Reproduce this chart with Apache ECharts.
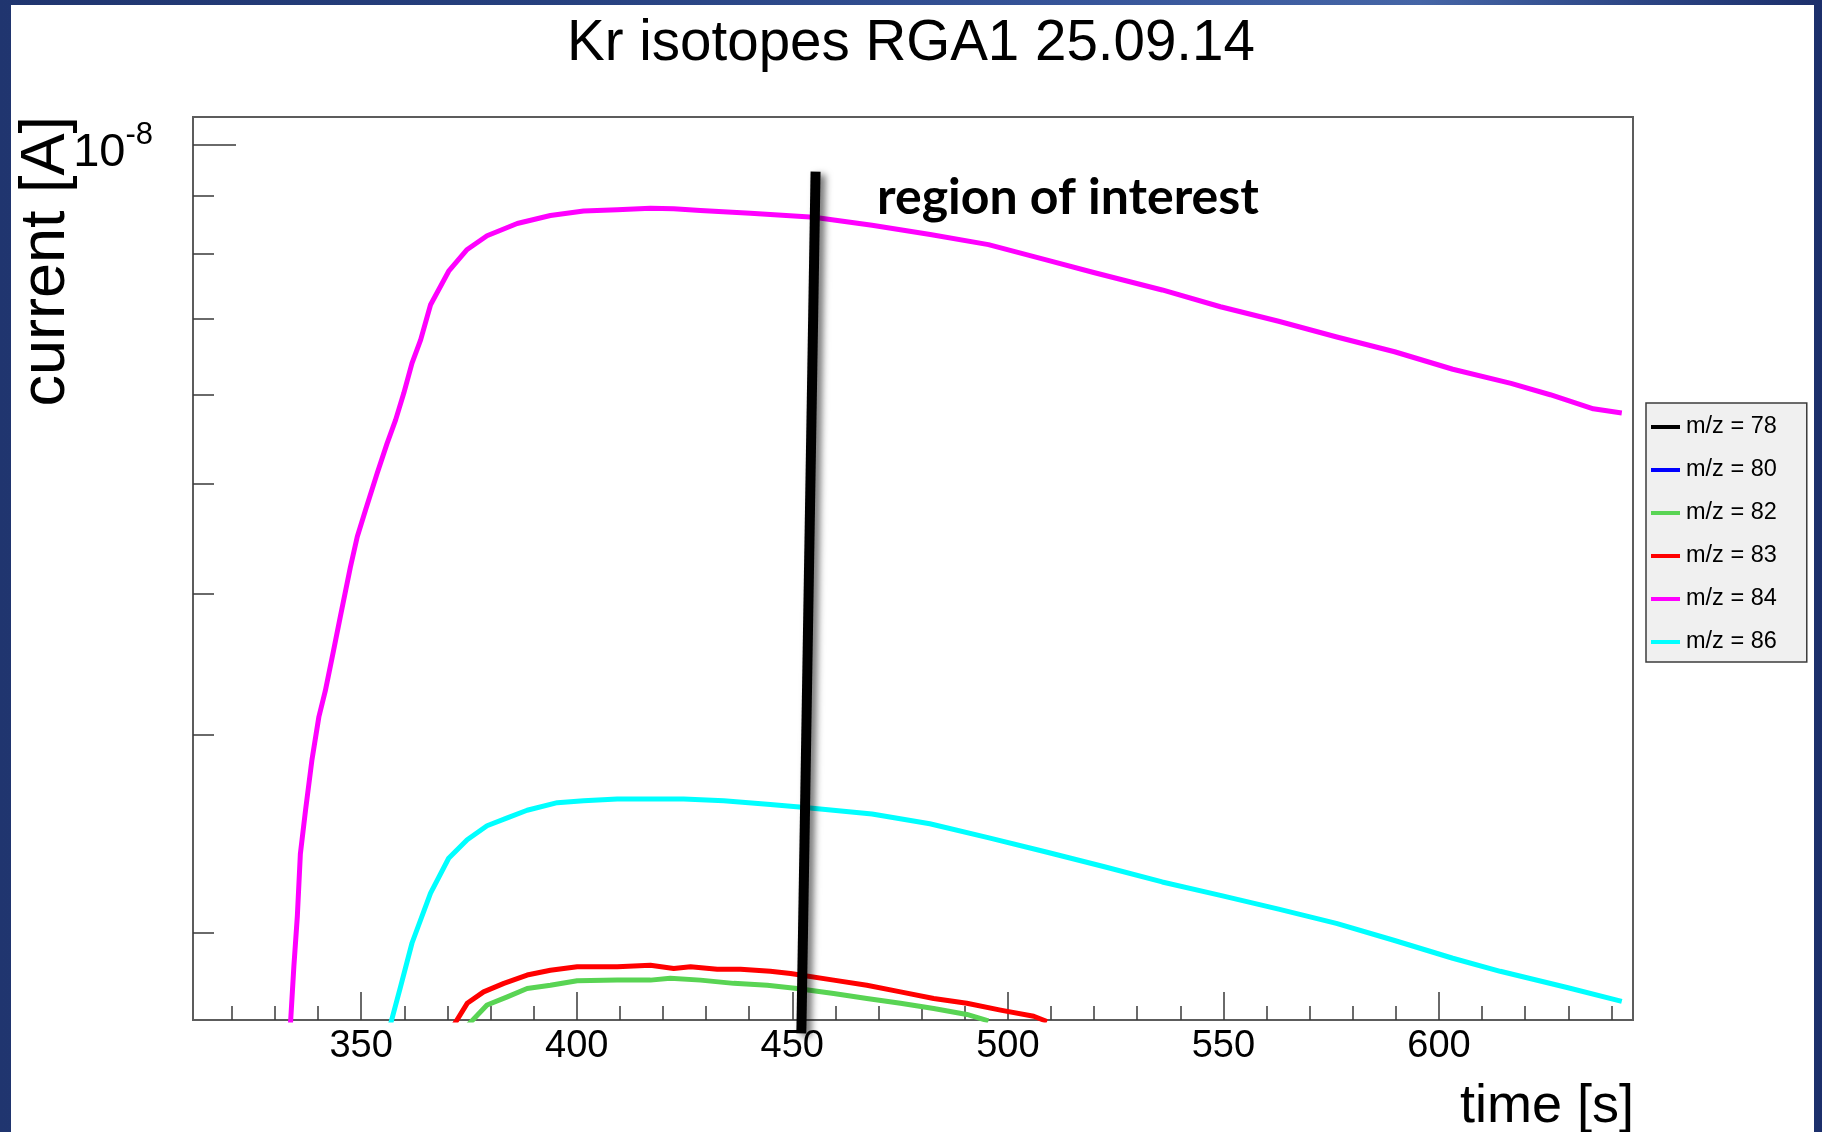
<!DOCTYPE html>
<html>
<head>
<meta charset="utf-8">
<title>Kr isotopes RGA1 25.09.14</title>
<script src="https://cdn.jsdelivr.net/npm/echarts@6/dist/echarts.min.js"></script>
<style>
  html, body {
    margin: 0; padding: 0; width: 1822px; height: 1132px; overflow: hidden;
    background: linear-gradient(90deg, #20356f 0%, #26407e 30%, #37559a 60%, #4565a6 78%, #2c4584 90%, #1c2f6b 100%);
  }
  #sheet { position: absolute; left: 11px; top: 5px; width: 1803px; height: 1127px; background: #ffffff; }
  #chart { position: absolute; left: 0; top: 0; width: 1822px; height: 1132px; }
</style>
</head>
<body>
<div id="sheet"></div>
<div id="chart"></div>
<script>
// Axis ranges
const timeMin = 311;
const timeMax = 645;
const currentMin = 1.675e-9;
const currentMax = 1.0575e-8;

// Tick positions and labels
const xMinorTicks = [320, 330, 340, 350, 360, 370, 380, 390, 400, 410, 420, 430, 440, 450, 460, 470, 480, 490, 500,
                     510, 520, 530, 540, 550, 560, 570, 580, 590, 600, 610, 620, 630, 640];
const xMajorTicks = [350, 400, 450, 500, 550, 600];
const yMinorTicks = [2e-9, 3e-9, 4e-9, 5e-9, 6e-9, 7e-9, 8e-9, 9e-9];
const yMajorTicks = [1e-8];

// Legend entries
const seriesNames = ['m/z = 78', 'm/z = 80', 'm/z = 82', 'm/z = 83', 'm/z = 84', 'm/z = 86'];
const seriesColors = ['#000000', '#0000ff', '#59d454', '#ff0000', '#ff00ff', '#00ffff'];

// Ion currents [time s, current A]; m/z 78 and 80 stay below the plotted range
const mz78 = [];
const mz80 = [];
const mz82 = [
  [374.9, 1.66e-9], [379.2, 1.727e-9], [383.9, 1.756e-9], [388.5, 1.786e-9], [393.9, 1.798e-9],
  [400.1, 1.815e-9], [409.4, 1.817e-9], [417.1, 1.817e-9], [421.7, 1.824e-9], [428.7, 1.817e-9],
  [436.4, 1.805e-9], [444.2, 1.798e-9], [451.1, 1.786e-9], [459.6, 1.768e-9], [467.3, 1.750e-9],
  [475.1, 1.733e-9], [482.8, 1.715e-9], [490.5, 1.694e-9], [495.5, 1.672e-9]
];
const mz83 = [
  [371.6, 1.66e-9], [374.6, 1.733e-9], [378.4, 1.774e-9], [383.1, 1.805e-9], [388.5, 1.836e-9],
  [393.9, 1.854e-9], [400.1, 1.867e-9], [409.4, 1.867e-9], [417.1, 1.873e-9], [422.5, 1.861e-9],
  [426.4, 1.867e-9], [432.6, 1.858e-9], [438.0, 1.858e-9], [444.9, 1.850e-9], [449.6, 1.842e-9],
  [459.6, 1.817e-9], [467.3, 1.798e-9], [475.1, 1.774e-9], [482.8, 1.750e-9], [490.5, 1.733e-9],
  [498.3, 1.709e-9], [506.0, 1.688e-9], [509.1, 1.670e-9]
];
const mz84 = [
  [333.6, 1.66e-9], [334.4, 1.87e-9], [335.2, 2.07e-9], [335.9, 2.35e-9], [337.1, 2.57e-9],
  [338.6, 2.85e-9], [340.2, 3.11e-9], [341.7, 3.28e-9], [343.6, 3.56e-9], [345.2, 3.82e-9],
  [347.5, 4.22e-9], [349.1, 4.49e-9], [351.0, 4.74e-9], [353.7, 5.11e-9], [356.0, 5.43e-9],
  [358.0, 5.70e-9], [359.9, 6.02e-9], [361.8, 6.40e-9], [363.8, 6.71e-9], [366.1, 7.21e-9],
  [370.3, 7.72e-9], [374.6, 8.07e-9], [379.2, 8.30e-9], [386.2, 8.51e-9], [393.9, 8.65e-9],
  [401.6, 8.73e-9], [409.4, 8.75e-9], [417.1, 8.78e-9], [422.5, 8.77e-9], [428.7, 8.74e-9],
  [440.3, 8.69e-9], [455.0, 8.62e-9], [468.5, 8.48e-9], [482.0, 8.32e-9], [495.5, 8.15e-9],
  [508.9, 7.90e-9], [519.9, 7.70e-9], [535.8, 7.43e-9], [549.3, 7.18e-9], [562.8, 6.97e-9],
  [576.3, 6.75e-9], [589.7, 6.55e-9], [603.2, 6.32e-9], [616.7, 6.14e-9], [625.8, 6.00e-9],
  [635.8, 5.83e-9], [642.4, 5.78e-9]
];
const mz86 = [
  [356.8, 1.66e-9], [359.1, 1.79e-9], [361.8, 1.96e-9], [366.1, 2.17e-9], [370.3, 2.33e-9],
  [374.6, 2.42e-9], [379.2, 2.49e-9], [383.9, 2.53e-9], [388.5, 2.57e-9], [395.5, 2.61e-9],
  [401.6, 2.62e-9], [409.4, 2.63e-9], [417.1, 2.63e-9], [424.8, 2.63e-9], [434.1, 2.62e-9],
  [444.9, 2.60e-9], [452.3, 2.585e-9], [468.5, 2.55e-9], [481.9, 2.50e-9], [495.4, 2.43e-9],
  [508.9, 2.36e-9], [522.4, 2.29e-9], [535.8, 2.22e-9], [549.3, 2.16e-9], [562.8, 2.10e-9],
  [576.2, 2.04e-9], [589.7, 1.97e-9], [603.2, 1.90e-9], [614.2, 1.85e-9], [629.7, 1.79e-9],
  [642.4, 1.74e-9]
];
const seriesData = [mz78, mz80, mz82, mz83, mz84, mz86];

// Marker line for the region of interest
const roiLabel = 'region of interest';
const roiLine = [[455.4, 9.46e-9], [452.1, 1.63e-9]];

const FONT = '"Liberation Sans", Arial, Helvetica, sans-serif';
const TICK = { color: '#3a3a3a', width: 1.5 };

const chart = echarts.init(document.getElementById('chart'), null, { renderer: 'canvas' });

const lineSeries = seriesNames.map((name, i) => ({
  name: name,
  type: 'line',
  xAxisIndex: 0,
  yAxisIndex: 0,
  data: seriesData[i],
  showSymbol: false,
  symbol: 'none',
  smooth: false,
  clip: true,
  z: 3 + i,
  color: seriesColors[i],
  itemStyle: { color: seriesColors[i] },
  lineStyle: { color: seriesColors[i], width: 5, cap: 'butt', join: 'round' },
  emphasis: { disabled: true }
}));

lineSeries.push({
  name: roiLabel,
  type: 'line',
  xAxisIndex: 0,
  yAxisIndex: 0,
  data: roiLine,
  showSymbol: false,
  symbol: 'none',
  clip: false,
  z: 20,
  silent: true,
  lineStyle: {
    color: '#000000', width: 10, cap: 'butt',
    shadowColor: 'rgba(0,0,0,0.55)', shadowBlur: 7, shadowOffsetX: 5, shadowOffsetY: 3
  },
  emphasis: { disabled: true }
});

const option = {
  animation: false,
  backgroundColor: 'transparent',
  textStyle: { fontFamily: FONT },
  title: {
    text: 'Kr isotopes RGA1 25.09.14',
    left: 'center',
    top: 11,
    textStyle: { fontFamily: FONT, fontSize: 56.5, fontWeight: 'normal', color: '#000000' }
  },
  grid: {
    left: 193, right: 189, top: 117, bottom: 112,
    containLabel: false,
    outerBoundsMode: 'none',
    show: true,
    borderColor: '#5c5c5c',
    borderWidth: 2,
    backgroundColor: 'transparent'
  },
  legend: {
    data: seriesNames,
    orient: 'vertical',
    left: 1646,
    top: 403,
    padding: [12, 30, 8, 5],
    itemWidth: 29,
    itemHeight: 4,
    itemGap: 19,
    icon: 'rect',
    backgroundColor: '#f0f0f0',
    borderColor: '#3c3c3c',
    borderWidth: 1.5,
    selectedMode: false,
    textStyle: { fontFamily: FONT, fontSize: 23.5, color: '#000000', lineHeight: 24, padding: [0, 0, 0, 1] }
  },
  xAxis: [
    {
      type: 'value', min: timeMin, max: timeMax, position: 'bottom',
      axisLine: { show: false },
      axisTick: { show: true, inside: true, length: 14, customValues: xMinorTicks, lineStyle: TICK },
      axisLabel: { show: false },
      splitLine: { show: false }
    },
    {
      type: 'value', min: timeMin, max: timeMax, position: 'bottom', offset: 0,
      axisLine: { show: false },
      axisTick: { show: true, inside: true, length: 28, customValues: xMajorTicks, lineStyle: TICK },
      axisLabel: {
        show: true, customValues: xMajorTicks, margin: 8,
        fontFamily: FONT, fontSize: 38, color: '#000000'
      },
      splitLine: { show: false }
    }
  ],
  yAxis: [
    {
      type: 'log', logBase: 10, min: currentMin, max: currentMax, position: 'left',
      axisLine: { show: false },
      axisTick: { show: true, inside: true, length: 21, customValues: yMinorTicks, lineStyle: TICK },
      axisLabel: { show: false },
      splitLine: { show: false }
    },
    {
      type: 'log', logBase: 10, min: currentMin, max: currentMax, position: 'left', offset: 0,
      axisLine: { show: false },
      axisTick: { show: true, inside: true, length: 43, customValues: yMajorTicks, lineStyle: TICK },
      axisLabel: {
        show: true, customValues: yMajorTicks, margin: 40,
        padding: [18, 0, 0, 0],
        formatter: function (v) {
          const exp = Math.round(Math.log10(v));
          return '{b|10}{s|' + exp + '}';
        },
        rich: {
          b: { fontFamily: FONT, fontSize: 47, color: '#000000', lineHeight: 66 },
          s: { fontFamily: FONT, fontSize: 31, color: '#000000', lineHeight: 31, verticalAlign: 'top' }
        }
      },
      splitLine: { show: false }
    }
  ],
  graphic: [
    {
      type: 'text',
      x: 47, y: 116,
      rotation: Math.PI / 2,
      style: {
        text: 'current [A]', fill: '#000000',
        font: 'normal 63px ' + FONT,
        textAlign: 'right', textVerticalAlign: 'middle'
      },
      z: 10
    },
    {
      type: 'text',
      x: 1634, y: 1107,
      style: {
        text: 'time [s]', fill: '#000000',
        font: 'normal 54px ' + FONT,
        textAlign: 'right', textVerticalAlign: 'middle'
      },
      z: 10
    },
    {
      type: 'text',
      x: 877, y: 198,
      style: {
        text: roiLabel, fill: '#000000',
        font: 'bold 50px Lato, "Open Sans", sans-serif',
        textAlign: 'left', textVerticalAlign: 'middle'
      },
      z: 30
    }
  ],
  series: lineSeries
};

chart.setOption(option);
</script>
</body>
</html>
